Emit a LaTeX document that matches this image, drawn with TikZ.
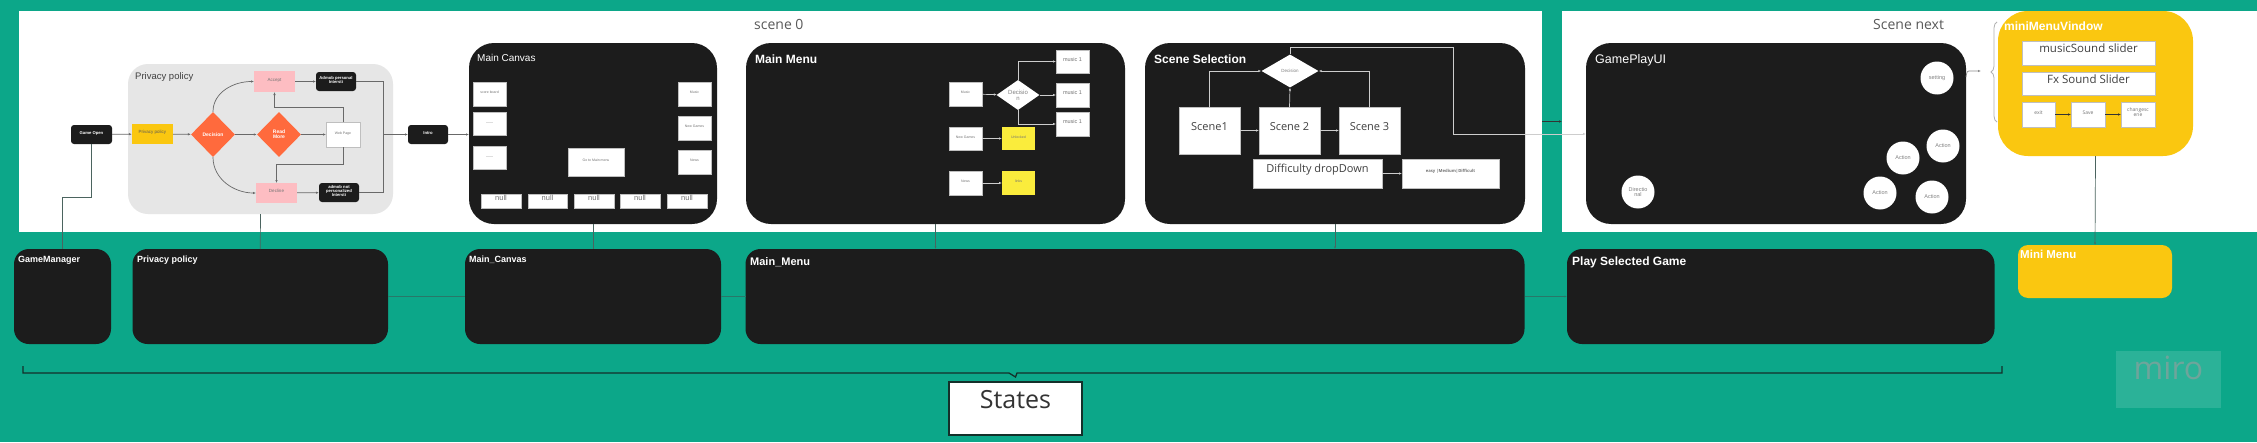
\documentclass[tikz,border=0pt]{standalone}
\usepackage{fontspec}
\setmainfont{Liberation Sans}
\newfontfamily\opensans{Open Sans}
\usetikzlibrary{fit,shapes.geometric,arrows.meta,decorations.pathreplacing}
\newcommand\fsz[1]{\fontsize{#1}{#1}\selectfont}
\definecolor{teal0}{RGB}{12,167,137}
\definecolor{blk}{RGB}{28,28,28}
\definecolor{panelgray}{RGB}{230,230,230}
\definecolor{orng}{RGB}{255,106,61}
\definecolor{pnk}{RGB}{253,189,194}
\definecolor{gold}{RGB}{250,199,16}
\definecolor{brightyel}{RGB}{250,236,60}
\definecolor{lnk}{RGB}{105,105,105}
\definecolor{lnkl}{RGB}{205,205,205}
\definecolor{tealline}{RGB}{40,120,105}
\definecolor{stline}{RGB}{75,100,95}
\definecolor{brk}{RGB}{20,48,42}
\definecolor{txtgray}{RGB}{95,95,95}
\definecolor{mirotxt}{RGB}{110,165,155}
\begin{document}
\begin{tikzpicture}[x=1pt,y=-1pt,
  box/.style={inner sep=0pt,outer sep=0pt,align=center},
  wbox/.style={box,fill=white,draw=black!25,line width=0.5pt,text=black!55},
  bpanel/.style={box,fill=blk,rounded corners=25pt},
  sbox/.style={box,fill=blk,rounded corners=15pt},
  tbox/.style={box,fill=blk,rounded corners=3pt,text=white,font=\bfseries\fsz{4.2}},
  pbox/.style={box,fill=pnk,text=black!55,font=\fsz{4.5}},
  odia/.style={diamond,fill=orng,inner sep=0pt,minimum width=44pt,minimum height=45pt,text=white,font=\bfseries\fsz{5},align=center},
  wdia/.style={diamond,fill=white,inner sep=0pt,text=black!50,align=center},
  circ/.style={circle,fill=white,minimum size=33pt,inner sep=0pt,text=black!50,font=\fsz{5.5},align=center},
  conn/.style={draw=lnk,line width=0.7pt,-{Latex[length=3pt,width=2.4pt]}},
  lconn/.style={draw=lnkl,line width=0.7pt,-{Latex[length=3pt,width=2.4pt]}},
  dconn/.style={draw=black!80,line width=0.7pt,-{Latex[length=3pt,width=2.4pt]}},
  plain/.style={draw=lnk,line width=0.7pt},
  stconn/.style={draw=stline,line width=0.7pt},
  tconn/.style={draw=tealline,line width=0.8pt},
  plabel/.style={anchor=west,text=white,inner sep=0pt},
]
\fill[teal0] (0,0) rectangle (2257,442);
\useasboundingbox (0,0) rectangle (2257,442);

% white scene panels
\node[box,fill=white,fit={(19,11)(1542,232)}] (scene0) {};
\node[box,fill=white,fit={(1562,11)(2257,232)}] (scenenext) {};
\node[anchor=west,inner sep=0pt,text=black!65,font=\opensans\fsz{14}] (t0) at (754,24) {scene 0};
\node[anchor=west,inner sep=0pt,text=black!65,font=\opensans\fsz{14}] (t1) at (1873,24) {Scene next};

% ---------- privacy policy flow ----------
\node[box,fill=panelgray,rounded corners=20pt,fit={(128,64)(393,214)}] (pppanel) {};
\node[anchor=west,inner sep=0pt,text=black!75,font=\fsz{9.5}] (pplbl) at (135,77) {Privacy policy};
\node[tbox,fit={(71,125)(112,144)}] (gopen) {Game Open};
\node[box,fill=gold,text=black!65,font=\fsz{4.5},fit={(132,124)(173,144)}] (ppy) {Privacy policy};
\node[odia] (dec) at (213,134.5) {Decision};
\node[odia] (readm) at (279,134.5) {Read\\More};
\node[pbox,fit={(254,71)(295,92)}] (accept) {Accept};
\node[tbox,fit={(316,72)(356,91)}] (admobp) {Admob personal\\Intersti};
\node[wbox,font=\fsz{3.5},fit={(326,122)(360,147)}] (web) {Web Page};
\node[pbox,fit={(256,183)(297,203)}] (decline) {Decline};
\node[tbox,fit={(319,183)(359,202)}] (admobn) {admob not\\personalized\\Intersti};
\node[tbox,fit={(408,125)(448,144)}] (intro) {Intro};
\coordinate (jn) at (383,134.5);

\draw[conn] (gopen) -- (ppy);
\draw[conn] (ppy) -- (dec);
\draw[conn] (dec.north) to[out=90,in=180] (accept.west);
\draw[conn] (dec.south) to[out=-90,in=180] (decline.west);
\draw[conn] (dec) -- (readm);
\draw[conn] (readm) -- (web);
\draw[conn] (web.north) -- ++(0,-15) -| (accept.south);
\draw[conn] (web.south) -- ++(0,17) -| (decline.north);
\draw[conn] (accept) -- (admobp);
\draw[conn] (decline) -- (admobn);
\draw[plain] (admobp.east) -| (jn);
\draw[plain] (admobn.east) -| (jn);
\draw[conn] (jn) -- (intro.west);

% ---------- Main Canvas ----------
\node[bpanel,fit={(469,43)(717,224)}] (mc) {};
\draw[conn] (intro.east) -- (intro.east -| mc.west);
\node[plabel,font=\fsz{10}] (mclbl) at (477,58) {Main Canvas};
\node[wbox,font=\fsz{3.5},fit={(473,82)(506,106)}] (mcb1) {score board};
\node[wbox,font=\fsz{3.5},fit={(473,112)(506,135)}] (mcb2) {------};
\node[wbox,font=\fsz{3.5},fit={(473,146)(506,169)}] (mcb3) {------};
\node[wbox,font=\fsz{3.5},fit={(678,82)(711,106)}] (mcb4) {Music};
\node[wbox,font=\fsz{3.5},fit={(678,116)(711,140)}] (mcb5) {New Games};
\node[wbox,font=\fsz{3.5},fit={(678,150)(711,174)}] (mcb6) {News};
\node[wbox,font=\fsz{3.5},fit={(568,148)(624,176)}] (mcgo) {Go to Main menu};
\node[wbox,font=\fsz{7.5},fit={(481,194)(521,208)}] (n1) {null};
\node[wbox,font=\fsz{7.5},fit={(528,194)(567,208)}] (n2) {null};
\node[wbox,font=\fsz{7.5},fit={(574,194)(614,208)}] (n3) {null};
\node[wbox,font=\fsz{7.5},fit={(620,194)(660,208)}] (n4) {null};
\node[wbox,font=\fsz{7.5},fit={(667,194)(707,208)}] (n5) {null};

% ---------- Main Menu ----------
\node[bpanel,fit={(746,43)(1125,224)}] (mmp) {};
\node[plabel,font=\bfseries\fsz{12}] (mmlbl) at (755,59) {Main Menu};
\node[wbox,font=\fsz{3.5},fit={(949,82)(982,106)}] (music) {Music};
\node[wdia,minimum width=43pt,minimum height=27pt,font=\fsz{6}] (mdec) at (1018,95) {Decisio\\n};
\node[wbox,font=\fsz{5.5},fit={(1056,50)(1089,73)}] (m1a) {music 1};
\node[wbox,font=\fsz{5.5},fit={(1056,83)(1089,107)}] (m1b) {music 1};
\node[wbox,font=\fsz{5.5},fit={(1056,112)(1089,136)}] (m1c) {music 1};
\node[wbox,font=\fsz{3.5},fit={(949,127)(982,150)}] (ng) {New Games};
\node[box,fill=brightyel,text=black!55,font=\fsz{3.5},fit={(1002,127)(1035,150)}] (unl) {Unlocked};
\node[wbox,font=\fsz{3.5},fit={(949,171)(982,195)}] (news) {News};
\node[box,fill=brightyel,text=black!55,font=\fsz{3.5},fit={(1002,171)(1035,195)}] (links) {links};
\draw[lconn] (music) -- (mdec);
\draw[lconn] (mdec.north) |- (m1a.west);
\draw[lconn] (mdec.east) -- (m1b.west);
\draw[lconn] (mdec.south) |- (m1c.west);
\draw[lconn] (ng) -- (unl);
\draw[lconn] (news) -- (links);

% ---------- Scene Selection ----------
\node[bpanel,fit={(1145,43)(1525,224)}] (ssp) {};
\node[plabel,font=\bfseries\fsz{12}] (sslbl) at (1154,59) {Scene Selection};
\node[wdia,minimum width=57pt,minimum height=33pt,font=\fsz{4.5}] (sdec) at (1290,71) {Decision};
\node[wbox,text=black!75,font=\opensans\fsz{11},fit={(1179,107)(1240,154)}] (s1) {Scene1};
\node[wbox,text=black!75,font=\opensans\fsz{11},fit={(1259,107)(1320,154)}] (s2) {Scene 2};
\node[wbox,text=black!75,font=\opensans\fsz{11},fit={(1339,107)(1400,154)}] (s3) {Scene 3};
\node[wbox,text=black!75,font=\opensans\fsz{11},fit={(1253,159)(1382,188)}] (diff) {Difficulty dropDown};
\node[wbox,font=\bfseries\opensans\fsz{4.2},fit={(1402,159)(1499,188)}] (easy) {easy |Medium|Difficult};
\draw[lconn] (s1) -- (s2);
\draw[lconn] (s2) -- (s3);
\draw[lconn] (diff) -- (easy);
\draw[lconn] (s1.north) |- (sdec.west);
\draw[lconn] (s2.north) -- (sdec.south);
\draw[lconn] (s3.north) |- (sdec.east);

% ---------- GamePlayUI ----------
\node[bpanel,fit={(1586,43)(1966,224)}] (gp) {};
\node[plabel,font=\fsz{12.5}] (gplbl) at (1595,60) {GamePlayUI};
\node[circ] (set) at (1937,78) {setting};
\node[circ] (a1) at (1943,146) {Action};
\node[circ] (a2) at (1903,158) {Action};
\node[circ] (a3) at (1932,197) {Action};
\node[circ] (a4) at (1880,193) {Action};
\node[circ] (dir) at (1638,192) {Directio\\nal};
\draw[lconn] (sdec.north) -- ++(0,-6.5) -| (1453,134) -- (1453,134 -| gp.west);
\draw[dconn] (scene0.east) -- (scenenext.west);

% ---------- miniMenuVindow ----------
\node[box,fill=gold,rounded corners=30pt,fit={(1998,11)(2193,156)}] (mmw) {};
\node[plabel,font=\bfseries\fsz{12}] (mmwlbl) at (2004,26) {miniMenuVindow};
\node[wbox,text=black!75,font=\opensans\fsz{11.5},fit={(2022,41)(2155,65)}] (msl) {musicSound slider};
\node[wbox,text=black!75,font=\opensans\fsz{11.5},fit={(2022,72)(2155,95)}] (fxs) {Fx Sound Slider};
\node[wbox,font=\opensans\fsz{5},fit={(2022,102)(2055,127)}] (exit) {exit};
\node[wbox,font=\opensans\fsz{5},fit={(2071,102)(2105,127)}] (save) {Save};
\node[wbox,font=\opensans\fsz{5},fit={(2121,102)(2155,127)}] (chg) {changesc\\ene};
\draw[dconn] (exit) -- (save);
\draw[dconn] (save) -- (chg);
\coordinate (gpa) at (1966,77);
\coordinate (gpb) at (1981,71);
\draw[conn,draw=black!45] (gpa) .. controls (1967,71) .. (1971,71) -- (gpb);
\draw[draw=black!30,line width=0.8pt,decorate,decoration={brace,amplitude=6pt}] (1997,122) -- (1997,22);

% ---------- States row ----------
\node[sbox,fit={(14,249)(111,344)}] (gm) {};
\node[sbox,fit={(132.5,249)(388,344)}] (ppst) {};
\node[sbox,fit={(465,249)(721,344)}] (mcst) {};
\node[sbox,fit={(745.5,249)(1524.5,344)}] (mmst) {};
\node[sbox,fit={(1567,249)(1994.5,344)}] (psg) {};
\node[box,fill=gold,rounded corners=10pt,fit={(2018,245)(2172,298)}] (mini) {};
\node[plabel,font=\bfseries\fsz{9}] (l1) at (18,260) {GameManager};
\node[plabel,font=\bfseries\fsz{9}] (l2) at (137,260) {Privacy policy};
\node[plabel,font=\bfseries\fsz{9}] (l3) at (469,260) {Main\_Canvas};
\node[plabel,font=\bfseries\fsz{11}] (l4) at (750,262) {Main\_Menu};
\node[plabel,font=\bfseries\fsz{12}] (l5) at (1572,262) {Play Selected Game};
\node[plabel,font=\bfseries\fsz{11.5}] (l6) at (2020,254) {Mini Menu};

\draw[stconn] (gopen.south) -- ++(0,53) -| (gm.north);
\draw[stconn] (pppanel.south) -- (ppst.north);
\draw[stconn] (mc.south) -- (mcst.north);
\draw[stconn,-{Latex[length=2.5pt,width=2pt]}] (mmp.south) -- (mmp.south |- mmst.north);
\draw[stconn,-{Latex[length=2.5pt,width=2pt]}] (ssp.south) -- (ssp.south |- mmst.north);
\draw[stconn,-{Latex[length=2.5pt,width=2pt]}] (mmw.south) -- (mini.north);
\draw[tconn] (ppst.east) -- (mcst.west);
\draw[tconn] (mcst.east) -- (mmst.west);
\draw[tconn,-{Latex[length=2.5pt,width=2pt]}] (mmst.east) -- (psg.west);

% bracket and States
\node[box,fill=white,draw=brk,line width=1.5pt,text=black!80,font=\opensans\fsz{25},fit={(949,382)(1082,435)}] (states) {States};
\coordinate (bl) at (23,366);
\coordinate (br) at (2002,366);
\draw[draw=brk,line width=1.3pt] (bl) -- (23,373) -- (1009,373) -- (states.north |- 0,377) -- (1017,373) -- (2002,373) -- (br);

% watermark
\node[box,fill=white,fill opacity=0.13,text opacity=1,text=mirotxt,font=\opensans\fsz{32},fit={(2116,351)(2221,408)}] (miro) {miro};
\end{tikzpicture}
\end{document}
